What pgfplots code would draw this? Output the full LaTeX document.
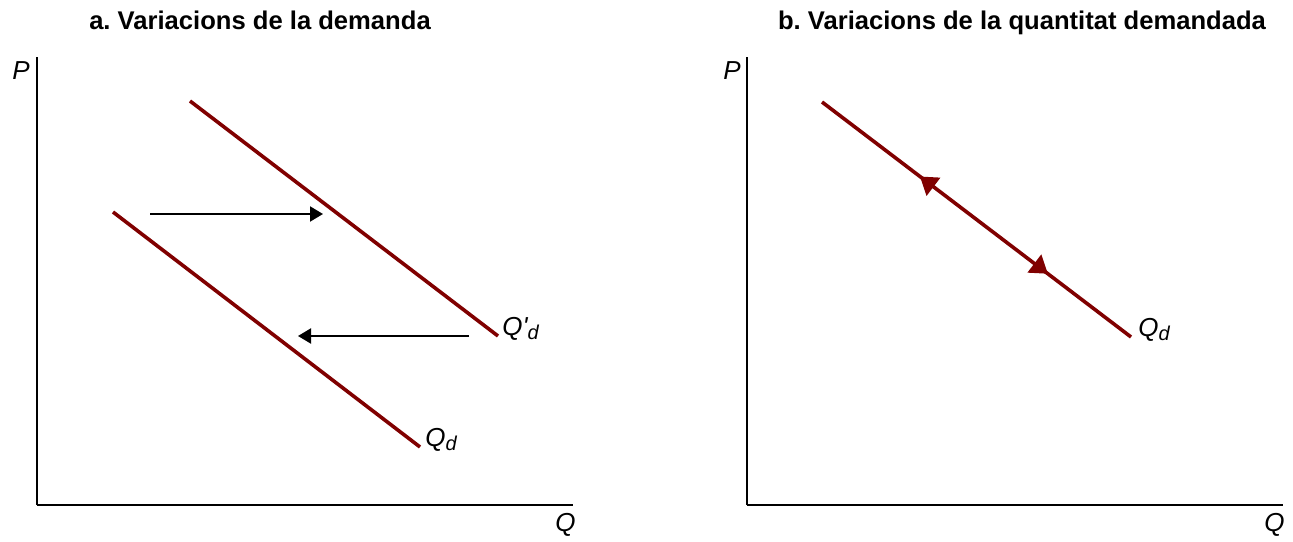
\documentclass[border=0pt]{standalone}
\usepackage{fontspec}
\setmainfont{Liberation Sans}
\usepackage{pgfplots}
\pgfplotsset{compat=1.18}
\usetikzlibrary{arrows.meta,decorations.markings}
\definecolor{curve}{HTML}{800000}
\newcommand{\sub}[1]{\raisebox{-0.3ex}{\fontsize{10}{12}\selectfont #1}}
\frenchspacing
\begin{document}
\begin{tikzpicture}
\useasboundingbox (0,0) rectangle (646.5pt,270.5pt);
\pgfplotsset{
  diagram/.style={
    x=0.5pt, y=0.5pt,
    xmin=0, xmax=536, ymin=0, ymax=448,
    axis lines=left,
    axis line style={-, line width=1pt, black},
    xtick=\empty, ytick=\empty,
    clip=false,
    anchor=south west,
  },
  demand/.style={curve, line width=1.8pt},
  shift/.style={black, line width=1pt, -{Triangle[length=6.5pt,width=7.5pt]}},
}
\tikzset{
  lab/.style={anchor=base west, inner sep=0pt, font=\fontsize{13}{15}\selectfont\itshape},
  ttl/.style={anchor=base, inner sep=0pt, font=\fontsize{12.8}{15}\selectfont\bfseries},
}
% a. shift of the whole demand curve
\begin{axis}[diagram, at={(18.5pt,18pt)}]
  \addplot[demand] coordinates {(153,404) (461,169)};
  \addplot[demand] coordinates {(76,293) (383,58)};
  \addplot[shift] coordinates {(113,291) (286,291)};
  \addplot[shift] coordinates {(432,169) (261,169)};
  \node[lab] at (axis cs:465,170) {Q\textquotesingle\sub{d}};
  \node[lab] at (axis cs:388,59) {Q\sub{d}};
  \node[lab] at (axis cs:-25,425) {P};
  \node[lab] at (axis cs:518,-26) {Q};
  \node[ttl] at (axis cs:223,475) {a. Variacions de la demanda};
\end{axis}
% b. movement along the demand curve
\begin{axis}[diagram, at={(373.5pt,18pt)}]
  \addplot[demand, postaction={decorate}, decoration={markings,
      mark=at position 0.317 with {\arrowreversed{Triangle[length=8.5pt,width=11pt]}},
      mark=at position 0.731 with {\arrow{Triangle[length=8.5pt,width=11pt]}}}]
    coordinates {(75,403) (384,168)};
  \node[lab] at (axis cs:391,169) {Q\sub{d}};
  \node[lab] at (axis cs:-24,425) {P};
  \node[lab] at (axis cs:517,-26) {Q};
  \node[ttl] at (axis cs:275,475) {b. Variacions de la quantitat demandada};
\end{axis}
\end{tikzpicture}
\end{document}
